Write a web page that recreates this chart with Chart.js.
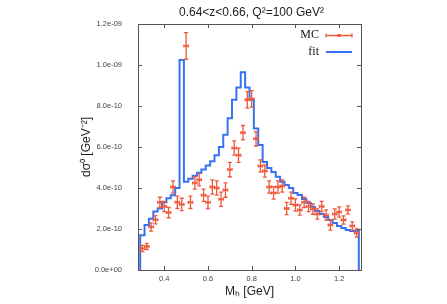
<!DOCTYPE html>
<html><head><meta charset="utf-8">
<script src="https://cdn.jsdelivr.net/npm/chart.js@4/dist/chart.umd.min.js"></script>
<style>html,body{margin:0;padding:0;background:#fff;overflow:hidden}</style>
</head><body>
<canvas id="c" width="447" height="304"></canvas>
<script>
// ---------------- data (values in units of 1e-10 GeV^-2) ----------------
const UNIT = 1e-10;
const binWidth = 0.02;
const massCenters = [0.30,0.32,0.34,0.36,0.38,0.40,0.42,0.44,0.46,0.48,
  0.50,0.52,0.54,0.56,0.58,0.60,0.62,0.64,0.66,0.68,
  0.70,0.72,0.74,0.76,0.78,0.80,0.82,0.84,0.86,0.88,
  0.90,0.92,0.94,0.96,0.98,1.00,1.02,1.04,1.06,1.08,
  1.10,1.12,1.14,1.16,1.18,1.20,1.22,1.24,1.26,1.28];
const fitValues = [1.27,1.7,2.2,2.5,2.85,3.0,3.3,3.5,3.65,4.0,
  10.25,4.3,4.45,4.6,4.75,4.9,5.1,5.3,5.6,6.0,
  6.6,7.4,8.3,8.9,9.65,8.9,8.3,6.9,6.1,5.27,
  4.97,4.78,4.55,4.3,4.15,4.0,3.76,3.66,3.46,3.27,
  3.07,2.88,2.73,2.59,2.44,2.29,2.15,2.05,1.95,1.9];
const mcValues = [1.05,1.15,2.1,2.45,3.3,3.1,2.8,4.05,3.3,3.2,
  10.93,3.3,4.25,4.4,3.65,3.3,4.05,4.0,3.45,3.9,
  4.9,5.95,5.6,6.7,8.3,8.35,6.4,5.07,4.83,4.05,
  3.76,4.05,4.1,3.0,3.5,3.17,2.93,3.3,3.1,2.97,
  2.73,3.1,2.68,2.2,2.73,2.83,2.44,2.93,2.15,1.8];
const mcErrors = [0.15,0.15,0.2,0.2,0.25,0.25,0.25,0.3,0.3,0.3,
  0.65,0.3,0.3,0.3,0.3,0.3,0.35,0.35,0.35,0.35,
  0.35,0.35,0.35,0.35,0.4,0.4,0.35,0.3,0.3,0.3,
  0.3,0.3,0.3,0.3,0.3,0.3,0.25,0.25,0.25,0.25,
  0.25,0.25,0.25,0.25,0.25,0.25,0.2,0.2,0.2,0.2];
const xTickValues = [0.4,0.6,0.8,1.0,1.2];
const yTickValues = [0,2,4,6,8,10,12];
const titleText = '0.64<z<0.66, Q\u00B2=100 GeV\u00B2';
const xTitle = 'M\u2095 [GeV]';
const yTitle = 'd\u03C3\u2070 [GeV\u207B\u00B2]';
const legendLabels = ['MC','fit'];

const MC_COLOR = 'rgb(240,88,60)';
const FIT_COLOR = 'rgb(55,115,240)';
const AXIS_COLOR = '#555';
const TICK_FONT = '7.5px "Liberation Sans", Arial, sans-serif';

// histogram outline points built from bins
const fitPoints = [{x: massCenters[0]-binWidth/2, y: 0}];
massCenters.forEach((c,i)=>fitPoints.push({x: c-binWidth/2, y: fitValues[i]}));
fitPoints.push({x: massCenters[massCenters.length-1]+binWidth/2, y: fitValues[fitValues.length-1]});
fitPoints.push({x: massCenters[massCenters.length-1]+binWidth/2, y: 0});
const mcPoints = massCenters.map((c,i)=>({x:c, y:mcValues[i]}));

function fmtExp(v){
  const val = v*UNIT;
  if (val === 0) return '0.0e+00';
  let [m,e] = val.toExponential(1).split('e');
  const sign = e[0]==='-'?'-':'+';
  let d = e.replace(/[+-]/,'');
  if (d.length<2) d='0'+d;
  return m+'e'+sign+d;
}

const decor = {
  id:'decor',
  afterDatasetsDraw(chart){
    const ctx = chart.ctx, a = chart.chartArea;
    const xs = chart.scales.x, ys = chart.scales.y;
    ctx.save();
    ctx.beginPath(); ctx.rect(a.left, a.top, a.right-a.left, a.bottom-a.top); ctx.clip();
    ctx.strokeStyle = MC_COLOR; ctx.lineWidth = 1.3;
    massCenters.forEach((c,i)=>{
      const x = xs.getPixelForValue(c);
      const xl = xs.getPixelForValue(c-binWidth/2), xr = xs.getPixelForValue(c+binWidth/2);
      const y = ys.getPixelForValue(mcValues[i]);
      const yt = ys.getPixelForValue(mcValues[i]+mcErrors[i]);
      const yb = ys.getPixelForValue(mcValues[i]-mcErrors[i]);
      ctx.beginPath();
      ctx.moveTo(x,yt); ctx.lineTo(x,yb);
      ctx.moveTo(x-2,yt); ctx.lineTo(x+2,yt);
      ctx.moveTo(x-2,yb); ctx.lineTo(x+2,yb);
      ctx.moveTo(xl,y); ctx.lineTo(xr,y);
      ctx.moveTo(xl,y-1.5); ctx.lineTo(xl,y+1.5);
      ctx.moveTo(xr,y-1.5); ctx.lineTo(xr,y+1.5);
      ctx.stroke();
    });
    ctx.restore();
  },
  afterDraw(chart){
    const ctx = chart.ctx, a = chart.chartArea;
    const xs = chart.scales.x, ys = chart.scales.y;
    ctx.save();
    ctx.strokeStyle = AXIS_COLOR; ctx.lineWidth = 1;
    ctx.strokeRect(Math.round(a.left)+0.5, Math.round(a.top)+0.5, Math.round(a.right-a.left), Math.round(a.bottom-a.top));
    ctx.beginPath();
    xTickValues.forEach(v=>{
      const x = Math.round(xs.getPixelForValue(v))+0.5;
      ctx.moveTo(x,a.bottom); ctx.lineTo(x,a.bottom-4);
      ctx.moveTo(x,a.top); ctx.lineTo(x,a.top+4);
    });
    yTickValues.forEach(v=>{
      const y = Math.round(ys.getPixelForValue(v))+0.5;
      ctx.moveTo(a.left,y); ctx.lineTo(a.left+4,y);
      ctx.moveTo(a.right,y); ctx.lineTo(a.right-4,y);
    });
    ctx.stroke();
    // x tick labels
    ctx.fillStyle = '#444';
    ctx.font = TICK_FONT;
    ctx.textAlign = 'center'; ctx.textBaseline = 'middle';
    xTickValues.forEach(v=>{
      ctx.fillText(v.toFixed(1), xs.getPixelForValue(v), a.bottom + 9);
    });
    // titles
    ctx.fillStyle = '#222';
    ctx.font = '12px "Liberation Sans", Arial, sans-serif';
    ctx.fillText(titleText, (a.left+a.right)/2 + 2, 13);
    ctx.fillText(xTitle, (a.left+a.right)/2, 292);
    ctx.save();
    ctx.translate(87, (a.top+a.bottom)/2);
    ctx.rotate(-Math.PI/2);
    ctx.fillText(yTitle, 0, 0);
    ctx.restore();
    // legend
    ctx.font = '12px "Liberation Serif", "Times New Roman", serif';
    ctx.textAlign = 'right';
    ctx.fillStyle = '#111';
    ctx.fillText(legendLabels[0], 319, 35);
    ctx.fillText(legendLabels[1], 319, 52);
    ctx.strokeStyle = MC_COLOR; ctx.lineWidth = 1.3;
    ctx.beginPath();
    ctx.moveTo(326,35.5); ctx.lineTo(352,35.5);
    ctx.moveTo(326,33.5); ctx.lineTo(326,37.5);
    ctx.moveTo(352,33.5); ctx.lineTo(352,37.5);
    ctx.stroke();
    ctx.fillStyle = MC_COLOR;
    ctx.fillRect(337.5,34,3,3);
    ctx.strokeStyle = FIT_COLOR; ctx.lineWidth = 2;
    ctx.beginPath(); ctx.moveTo(326,52); ctx.lineTo(352,52); ctx.stroke();
    ctx.restore();
  }
};

new Chart(document.getElementById('c'), {
  type: 'line',
  data: {
    datasets: [
      { label: 'fit', data: fitPoints, stepped: 'after', borderColor: FIT_COLOR, borderWidth: 2,
        pointRadius: 0, fill: false, order: 2 },
      { label: 'MC', data: mcPoints, showLine: false, pointStyle: 'rect', pointRadius: 1.6,
        pointBackgroundColor: MC_COLOR, pointBorderColor: MC_COLOR, pointBorderWidth: 0, order: 1 }
    ]
  },
  options: {
    responsive: false, animation: false, devicePixelRatio: 1,
    layout: { padding: { left: 0, right: 86, top: 24, bottom: 0 } },
    plugins: { legend: { display: false }, title: { display: false }, tooltip: { enabled: false } },
    scales: {
      x: { type: 'linear', min: 0.28, max: 1.30,
        afterBuildTicks: s => { s.ticks = xTickValues.map(v=>({value:v})); },
        afterFit: s => { s.height = 34; },
        grid: { display: false }, border: { display: false },
        ticks: { display: false } },
      y: { type: 'linear', min: 0, max: 12,
        afterBuildTicks: s => { s.ticks = yTickValues.map(v=>({value:v})); },
        afterFit: s => { s.width = 138; },
        grid: { display: false }, border: { display: false },
        ticks: { color: '#444', font: { family: 'Liberation Sans', size: 7.5 }, padding: 8,
          callback: v => fmtExp(v) } }
    }
  },
  plugins: [decor]
});
</script>
</body></html>
